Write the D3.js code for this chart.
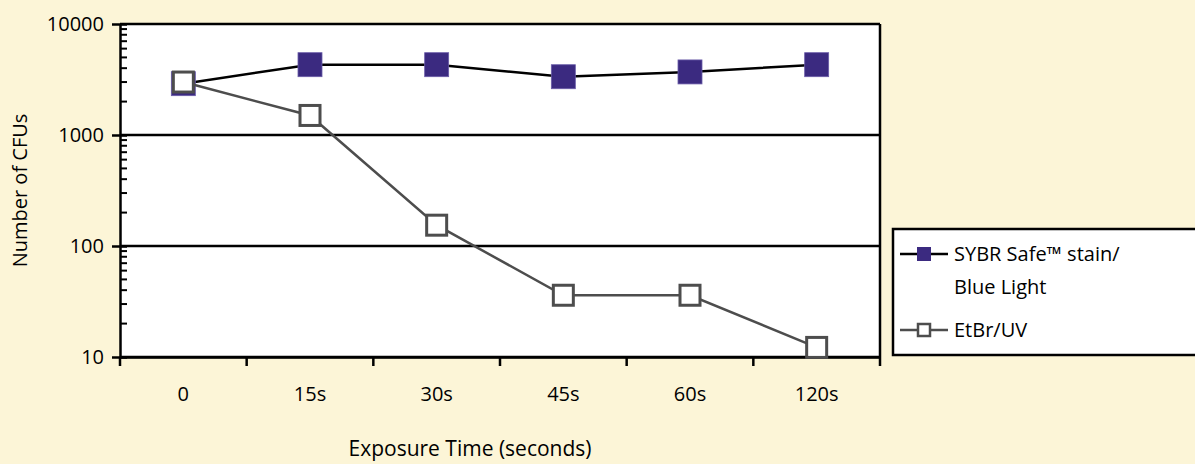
<!DOCTYPE html>
<html>
<head>
<meta charset="utf-8">
<script src="https://cdn.jsdelivr.net/npm/d3@7"></script>
<style>
  html, body { margin: 0; padding: 0; background: #fcf5d7; }
  svg { display: block; font-family: "Open Sans", sans-serif; }
</style>
</head>
<body>
<script>
'use strict'

const times = ['0', '15s', '30s', '45s', '60s', '120s']
const sybrSafe = [2900, 4300, 4300, 3350, 3700, 4300]
const etbrUv = [3000, 1500, 154, 36, 36, 12.2]
const yTicks = [10, 100, 1000, 10000]
const seriesNames = [['SYBR Safe™ stain/', 'Blue Light'], ['EtBr/UV']]

const W = 1195
const H = 464
const margin = {top: 24, right: 315, bottom: 107, left: 120}
const width = W - margin.left - margin.right
const height = H - margin.top - margin.bottom

const purple = '#3b2a80'
const grey = '#4d4d4d'
const fs = 20

const x = d3.scaleBand()
  .domain(times)
  .range([0, width])

const y = d3.scaleLog()
  .domain([10, 10000])
  .range([height, 0])

const svg = d3.select('body').append('svg')
    .attr('width', W)
    .attr('height', H)

const g = svg.append('g')
    .attr('transform', 'translate(' + margin.left + ',' + margin.top + ')')

// plot area
g.append('rect')
    .attr('width', width)
    .attr('height', height)
    .attr('fill', '#fff')

// gridlines at decades
g.selectAll('.grid')
    .data(yTicks)
  .enter().append('line')
    .attr('class', 'grid')
    .attr('x1', 0)
    .attr('x2', width)
    .attr('y1', d => y(d))
    .attr('y2', d => y(d))
    .attr('stroke', '#000')
    .attr('stroke-width', 2.5)

// right border
g.append('line')
    .attr('x1', width).attr('x2', width)
    .attr('y1', 0).attr('y2', height)
    .attr('stroke', '#000')
    .attr('stroke-width', 2.5)

// minor log ticks, inside
const minor = []
yTicks.slice(0, -1).forEach(d => { for (let k = 2; k < 10; k++) minor.push(d * k) })

g.selectAll('.minor')
    .data(minor)
  .enter().append('line')
    .attr('x1', 0)
    .attr('x2', 7)
    .attr('y1', d => y(d))
    .attr('y2', d => y(d))
    .attr('stroke', '#000')
    .attr('stroke-width', 2)

// y axis
const yAxis = g.append('g')
    .call(d3.axisLeft(y).tickValues(yTicks).tickFormat(d3.format('d')).tickSize(8).tickSizeOuter(0).tickPadding(8))
yAxis.select('.domain').attr('stroke-width', 2.5)
yAxis.selectAll('.tick line').attr('stroke-width', 2.5).attr('x2', -8).attr('x1', 7)
yAxis.selectAll('.tick text')
    .attr('font-size', fs)
    .attr('font-family', '"Open Sans", sans-serif')
    .attr('fill', '#000')

// x axis
const xAxis = g.append('g')
    .attr('transform', 'translate(0,' + height + ')')
    .call(d3.axisBottom(x).tickSize(0).tickPadding(30))
xAxis.select('.domain').attr('stroke-width', 2.5)
xAxis.selectAll('.tick text')
    .attr('font-size', fs)
    .attr('font-family', '"Open Sans", sans-serif')
    .attr('fill', '#000')

// tick marks between categories
g.selectAll('.xtick')
    .data(times.concat(['end']))
  .enter().append('line')
    .attr('x1', (d, i) => i * x.step())
    .attr('x2', (d, i) => i * x.step())
    .attr('y1', height)
    .attr('y2', height + 9)
    .attr('stroke', '#000')
    .attr('stroke-width', 2.5)

const cx = d => x(d) + x.bandwidth() / 2

const line = d3.line()
  .x((d, i) => cx(times[i]))
  .y(d => y(d))

// SYBR Safe series
g.append('path')
    .datum(sybrSafe)
    .attr('d', line)
    .attr('fill', 'none')
    .attr('stroke', '#000')
    .attr('stroke-width', 2.5)

g.selectAll('.sybr')
    .data(sybrSafe)
  .enter().append('rect')
    .attr('x', (d, i) => cx(times[i]) - 12)
    .attr('y', d => y(d) - 12)
    .attr('width', 24)
    .attr('height', 24)
    .attr('fill', purple)
    .attr('stroke', '#6a5ca8')
    .attr('stroke-width', 0.8)

// EtBr/UV series
g.append('path')
    .datum(etbrUv)
    .attr('d', line)
    .attr('fill', 'none')
    .attr('stroke', grey)
    .attr('stroke-width', 2.5)

g.selectAll('.etbr')
    .data(etbrUv)
  .enter().append('rect')
    .attr('x', (d, i) => cx(times[i]) - 10)
    .attr('y', d => y(d) - 10)
    .attr('width', 20)
    .attr('height', 20)
    .attr('fill', '#fff')
    .attr('stroke', grey)
    .attr('stroke-width', 3)

// axis titles
svg.append('text')
    .attr('x', 470)
    .attr('y', 456)
    .attr('text-anchor', 'middle')
    .attr('font-size', 21)
    .text('Exposure Time (seconds)')

svg.append('text')
    .attr('transform', 'translate(27,' + (margin.top + height / 2) + ') rotate(-90)')
    .attr('text-anchor', 'middle')
    .attr('font-size', fs)
    .text('Number of CFUs')

// legend
const legend = svg.append('g')
    .attr('transform', 'translate(893,229)')

legend.append('rect')
    .attr('width', 320)
    .attr('height', 126)
    .attr('fill', '#fff')
    .attr('stroke', '#000')
    .attr('stroke-width', 2.5)

const item = legend.selectAll('.item')
    .data(seriesNames)
  .enter().append('g')
    .attr('transform', (d, i) => 'translate(0,' + (i === 0 ? 25 : 101) + ')')

item.append('line')
    .attr('x1', 7)
    .attr('x2', 55)
    .attr('stroke', (d, i) => i === 0 ? '#000' : grey)
    .attr('stroke-width', 2.5)

item.append('rect')
    .attr('x', (d, i) => i === 0 ? 24 : 25)
    .attr('y', (d, i) => i === 0 ? -7 : -6)
    .attr('width', (d, i) => i === 0 ? 14 : 12)
    .attr('height', (d, i) => i === 0 ? 14 : 12)
    .attr('fill', (d, i) => i === 0 ? purple : '#fff')
    .attr('stroke', (d, i) => i === 0 ? 'none' : grey)
    .attr('stroke-width', 2.5)

item.append('text')
    .attr('x', 61)
    .attr('font-size', fs)
  .selectAll('tspan')
    .data(d => d)
  .enter().append('tspan')
    .attr('x', 61)
    .attr('y', (d, i) => i * 33)
    .attr('dy', '0.35em')
    .text(d => d)
</script>
</body>
</html>
